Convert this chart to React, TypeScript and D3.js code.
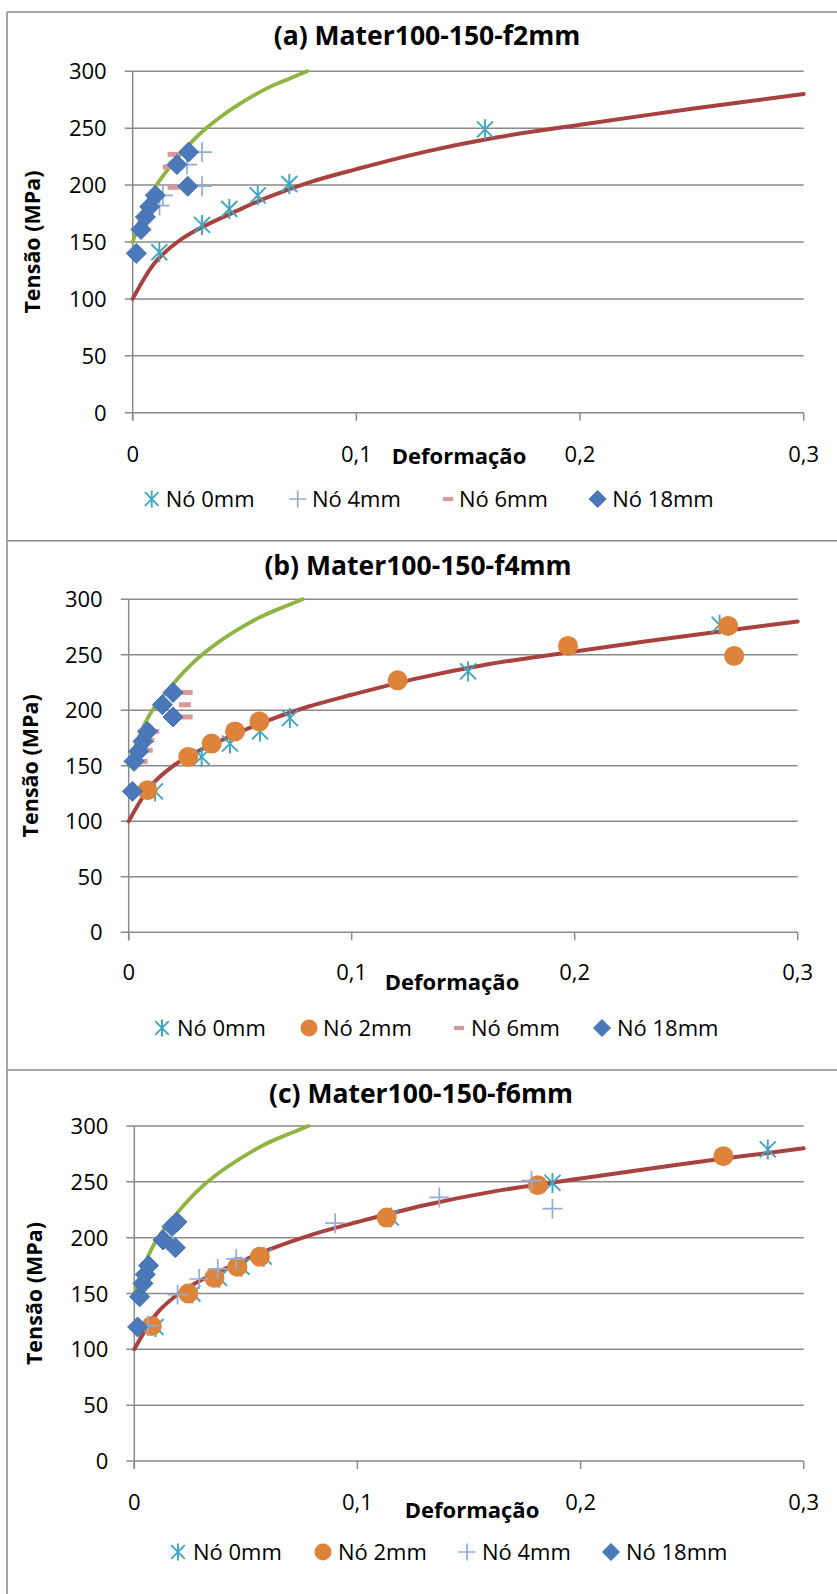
import React from 'react';
import * as d3 from 'd3';

// axis values
const xTicks = [0, 0.1, 0.2, 0.3];
const xTickLabels = ['0', '0,1', '0,2', '0,3'];
const yTicks = [0, 50, 100, 150, 200, 250, 300];
const panelTitles = ['(a) Mater100-150-f2mm', '(b) Mater100-150-f4mm', '(c) Mater100-150-f6mm'];

// reference curves, same in all three panels
const curve100: [number, number][] = [
  [0, 100], [0.01, 132], [0.02, 150], [0.03, 162], [0.045, 176], [0.06, 189],
  [0.08, 203], [0.1, 214], [0.13, 229], [0.16, 241], [0.2, 253], [0.25, 267], [0.3, 280],
];
const curve150: [number, number][] = [
  [0, 150], [0.005, 178], [0.01, 198], [0.02, 224], [0.03, 245], [0.04, 261],
  [0.05, 274], [0.06, 285], [0.07, 293.5], [0.078, 300],
];

// (a) f2mm
const a_no0: [number, number][] = [[0.0119, 141], [0.031, 165], [0.0432, 179], [0.0559, 191], [0.07, 201], [0.1575, 249]];
const a_no4: [number, number][] = [[0.012, 182], [0.0135, 191], [0.0243, 218], [0.031, 229], [0.031, 199]];
const a_no6: [number, number][] = [[0.0161, 216], [0.0183, 227], [0.0183, 198]];
const a_no18: [number, number][] = [[0.0016, 140], [0.0037, 161], [0.0057, 172], [0.0076, 181], [0.0101, 191], [0.0198, 218], [0.025, 229], [0.0246, 199]];

// (b) f4mm
const b_no0: [number, number][] = [[0.0118, 127], [0.0327, 158], [0.0454, 170], [0.0589, 181], [0.0723, 193], [0.1522, 235], [0.265, 277]];
const b_no2: [number, number][] = [[0.0084, 128], [0.0267, 158], [0.0372, 170], [0.0477, 181], [0.0586, 190], [0.1206, 227], [0.197, 258], [0.2688, 276], [0.2715, 249]];
const b_no6: [number, number][] = [[0.0058, 154], [0.0081, 164], [0.0088, 173], [0.011, 181], [0.0252, 205], [0.026, 216], [0.026, 194]];
const b_no18: [number, number][] = [[0.0017, 127], [0.0024, 154], [0.0045, 163], [0.0064, 172], [0.0084, 181], [0.0151, 205], [0.0199, 216], [0.0199, 194]];

// (c) f6mm
const c_no0: [number, number][] = [[0.0095, 120], [0.026, 150], [0.038, 164], [0.048, 174], [0.058, 183], [0.115, 218], [0.1874, 249], [0.2839, 279]];
const c_no2: [number, number][] = [[0.0078, 121], [0.0242, 150], [0.0359, 164], [0.0462, 174], [0.0563, 183], [0.1131, 218], [0.1808, 247], [0.264, 273]];
const c_no4: [number, number][] = [[0.006, 121], [0.0194, 149], [0.0291, 163], [0.0374, 172], [0.0457, 181], [0.09, 213], [0.1367, 236], [0.178, 251], [0.1874, 226]];
const c_no18: [number, number][] = [[0.0015, 120], [0.0024, 147], [0.0039, 159], [0.0049, 167], [0.0064, 175], [0.0129, 198], [0.0184, 191], [0.0169, 210], [0.0191, 214]];

type Kind = 'star' | 'plus' | 'dash' | 'diamond' | 'circle';
type Series = { name: string; kind: Kind; data: [number, number][] };

const panelSeries: Series[][] = [
  [
    { name: 'Nó 0mm', kind: 'star', data: a_no0 },
    { name: 'Nó 4mm', kind: 'plus', data: a_no4 },
    { name: 'Nó 6mm', kind: 'dash', data: a_no6 },
    { name: 'Nó 18mm', kind: 'diamond', data: a_no18 },
  ],
  [
    { name: 'Nó 0mm', kind: 'star', data: b_no0 },
    { name: 'Nó 2mm', kind: 'circle', data: b_no2 },
    { name: 'Nó 6mm', kind: 'dash', data: b_no6 },
    { name: 'Nó 18mm', kind: 'diamond', data: b_no18 },
  ],
  [
    { name: 'Nó 0mm', kind: 'star', data: c_no0 },
    { name: 'Nó 2mm', kind: 'circle', data: c_no2 },
    { name: 'Nó 4mm', kind: 'plus', data: c_no4 },
    { name: 'Nó 18mm', kind: 'diamond', data: c_no18 },
  ],
];

// layout of each panel in page pixels
const layout = [
  { x0: 132.7, x1: 803.7, yTop: 71.3, yBot: 412.7, titleX: 427, titleY: 45, yLabX: 40, tickY: 462, xTitleX: 459, xTitleY: 464, legY: 507,
    legMark: [151.7, 297.7, 448, 597.7], legText: [165.7, 312, 459, 612.3] },
  { x0: 128.7, x1: 797.7, yTop: 599.3, yBot: 932.3, titleX: 418, titleY: 575, yLabX: 38, tickY: 980, xTitleX: 452, xTitleY: 989.5, legY: 1036,
    legMark: [162, 309, 459, 602], legText: [177, 323, 471, 617] },
  { x0: 134.3, x1: 803.7, yTop: 1126, yBot: 1461, titleX: 421, titleY: 1103, yLabX: 42, tickY: 1510, xTitleX: 472, xTitleY: 1518, legY: 1560,
    legMark: [178, 323, 467, 611], legText: [193, 338, 482, 626] },
];

const FONT = '"Open Sans", "Noto Sans", sans-serif';
const GRID = '#8a8a8a';

function Marker({ kind, x, y, s = 1 }: { kind: Kind; x: number; y: number; s?: number }) {
  const r = 10 * s;
  if (kind === 'diamond') {
    return <path d={`M${x},${y - r}L${x + r},${y}L${x},${y + r}L${x - r},${y}Z`} fill="#4a78b8" stroke="#4272b0" strokeWidth={1} />;
  }
  if (kind === 'circle') {
    return <circle cx={x} cy={y} r={r} fill="#dd843a" />;
  }
  if (kind === 'plus') {
    return <path d={`M${x - r},${y}H${x + r}M${x},${y - r}V${y + r}`} stroke="#93acd6" strokeWidth={1.7} fill="none" />;
  }
  if (kind === 'dash') {
    const w = 6 * s;
    return <rect x={x - w} y={y - 2.5 * s} width={2 * w} height={5 * s} fill="#d9999a" />;
  }
  const d = 0.8 * r;
  return (
    <path d={`M${x},${y - r}V${y + r}M${x - d},${y - d}L${x + d},${y + d}M${x - d},${y + d}L${x + d},${y - d}`}
      stroke="#40a5c0" strokeWidth={1.9} fill="none" />
  );
}

function Panel({ idx }: { idx: number }) {
  const L = layout[idx];
  const x = d3.scaleLinear().domain([0, 0.3]).range([L.x0, L.x1]);
  const y = d3.scaleLinear().domain([0, 300]).range([L.yBot, L.yTop]);
  const line = d3.line<[number, number]>().x(d => x(d[0])).y(d => y(d[1])).curve(d3.curveCatmullRom.alpha(0.5));
  const series = panelSeries[idx];
  const yMid = (L.yTop + L.yBot) / 2;

  return (
    <g>
      <text x={L.titleX} y={L.titleY} textAnchor="middle" fontFamily={FONT} fontWeight="bold" fontSize={26.5} fill="#000">
        {panelTitles[idx]}
      </text>

      {/* gridlines + y ticks */}
      {yTicks.map(t => (
        <g key={t}>
          <line x1={L.x0 - 8} x2={L.x1} y1={y(t)} y2={y(t)} stroke={GRID} strokeWidth={1.5} />
          <text x={L.x0 - 26} y={y(t) + 8} textAnchor="end" fontFamily={FONT} fontSize={22} fill="#000">{t}</text>
        </g>
      ))}
      <line x1={L.x0} x2={L.x0} y1={L.yTop} y2={L.yBot + 8} stroke={GRID} strokeWidth={1.5} />
      {xTicks.map((t, i) => (
        <g key={t}>
          <line x1={x(t)} x2={x(t)} y1={L.yBot} y2={L.yBot + 8} stroke={GRID} strokeWidth={1.5} />
          <text x={x(t)} y={L.tickY} textAnchor="middle" fontFamily={FONT} fontSize={22} fill="#000">{xTickLabels[i]}</text>
        </g>
      ))}

      <text transform={`translate(${L.yLabX},${yMid}) rotate(-90)`} textAnchor="middle" fontFamily={FONT} fontWeight="bold" fontSize={21.5} fill="#000">
        Tensão (MPa)
      </text>
      <text x={L.xTitleX} y={L.xTitleY} textAnchor="middle" fontFamily={FONT} fontWeight="bold" fontSize={22} fill="#000">
        Deformação
      </text>

      {/* curves */}
      <path d={line(curve150) || ''} fill="none" stroke="#8fb442" strokeWidth={3.8} strokeLinecap="round" />
      <path d={line(curve100) || ''} fill="none" stroke="#a8423f" strokeWidth={4} strokeLinecap="round" />

      {/* points */}
      {series.map(s => (
        <g key={s.name}>
          {s.data.map((p, j) => <Marker key={j} kind={s.kind} x={x(p[0])} y={y(p[1])} />)}
        </g>
      ))}

      {/* legend */}
      {series.map((s, i) => (
        <g key={'l' + s.name}>
          <Marker kind={s.kind} x={L.legMark[i]} y={L.legY - 8} s={0.85} />
          <text x={L.legText[i]} y={L.legY} fontFamily={FONT} fontSize={22} fill="#000">{s.name}</text>
        </g>
      ))}
    </g>
  );
}

export default function App() {
  return (
    <div style={{ position: 'absolute', left: 0, top: 0 }}>
      <svg width={837} height={1594} style={{ display: 'block', background: '#fff' }}>
        <rect width={837} height={1594} fill="#fff" />
        <line x1={7} x2={7} y1={12} y2={1594} stroke={GRID} strokeWidth={1.5} />
        {[12, 540.7, 1070].map(v => (
          <line key={v} x1={7} x2={837} y1={v} y2={v} stroke={GRID} strokeWidth={1.5} />
        ))}
        {[0, 1, 2].map(i => <Panel key={i} idx={i} />)}
      </svg>
    </div>
  );
}
